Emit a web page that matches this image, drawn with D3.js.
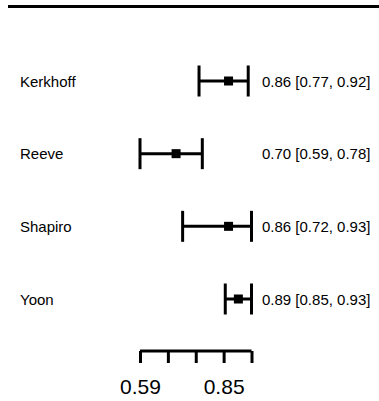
<!DOCTYPE html>
<html>
<head>
<meta charset="utf-8">
<script src="https://cdn.jsdelivr.net/npm/d3@7"></script>
<style>
html,body{margin:0;padding:0;background:#fff;}
svg{display:block;}
text{font-family:"Liberation Sans",Arial,sans-serif;fill:#000;}
</style>
</head>
<body>
<svg id="chart" width="379" height="401"></svg>
<script>
const studies = ["Kerkhoff", "Reeve", "Shapiro", "Yoon"];
const estimates = [0.86, 0.70, 0.86, 0.89];
const lowers = [0.77, 0.59, 0.72, 0.85];
const uppers = [0.92, 0.78, 0.93, 0.93];
const tickValues = [0.59, 0.675, 0.76, 0.845, 0.93];
const tickLabels = ["0.59", "", "", "0.85", ""];

const svg = d3.select("#chart");
const x = d3.scaleLinear().domain([0.59, 0.93]).range([140, 251.5]);
const y = d3.scalePoint().domain(studies).range([81, 299]);

// top rule
svg.append("line").attr("x1", 8).attr("x2", 379).attr("y1", 6.5).attr("y2", 6.5)
  .attr("stroke", "#000").attr("stroke-width", 3);

const fmt = d3.format(".2f");
const rows = svg.append("g").selectAll("g").data(studies).join("g")
  .attr("transform", d => `translate(0,${y(d)})`);

rows.append("text").attr("x", 20).attr("y", 5.5).attr("font-size", 15).text(d => d);

rows.append("line")
  .attr("x1", (d, i) => x(lowers[i])).attr("x2", (d, i) => x(uppers[i]))
  .attr("stroke", "#000").attr("stroke-width", 3);
rows.append("line")
  .attr("x1", (d, i) => x(lowers[i])).attr("x2", (d, i) => x(lowers[i]))
  .attr("y1", -15.5).attr("y2", 15.5).attr("stroke", "#000").attr("stroke-width", 3);
rows.append("line")
  .attr("x1", (d, i) => x(uppers[i])).attr("x2", (d, i) => x(uppers[i]))
  .attr("y1", -15.5).attr("y2", 15.5).attr("stroke", "#000").attr("stroke-width", 3);
rows.append("rect")
  .attr("x", (d, i) => x(estimates[i]) - 4.5).attr("y", -4.5)
  .attr("width", 9).attr("height", 9).attr("fill", "#000");

rows.append("text").attr("x", 262).attr("y", 5.5).attr("font-size", 15)
  .text((d, i) => `${fmt(estimates[i])} [${fmt(lowers[i])}, ${fmt(uppers[i])}]`);

// axis
const axis = d3.axisBottom(x).tickValues(tickValues)
  .tickFormat((d, i) => tickLabels[i]).tickSize(12).tickPadding(16).tickSizeOuter(0);
const ag = svg.append("g").attr("transform", "translate(0,351)").call(axis);
ag.select(".domain").attr("stroke-width", 3).attr("d", `M${x(0.59)},0H${x(0.93)}`);
ag.selectAll(".tick line").attr("stroke-width", 3);
ag.selectAll(".tick text").attr("font-size", 21).attr("font-family", "'Liberation Sans',Arial,sans-serif").attr("fill", "#000");
</script>
</body>
</html>
